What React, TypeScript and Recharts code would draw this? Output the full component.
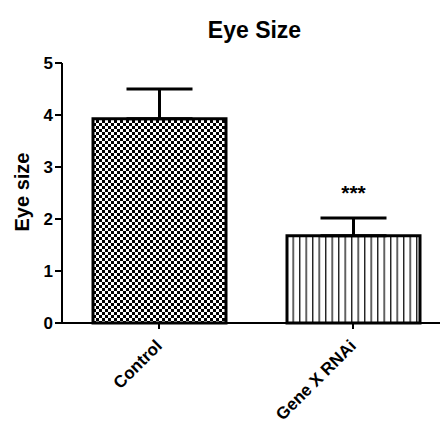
import { Bar, BarChart, ErrorBar, LabelList, XAxis, YAxis } from "recharts";

const categories = ["Control", "Gene X RNAi"];
const means = [3.93, 1.68];
const sems = [0.57, 0.34];
const marks = ["", "***"];
const fills = ["url(#checker)", "url(#vlines)"];
const yTicks = [0, 1, 2, 3, 4, 5];

const data = categories.map((name, i) => ({
  name,
  mean: means[i],
  err: [0, sems[i]],
  sig: marks[i],
  fill: fills[i],
}));

const FONT = "'Liberation Sans', Arial, sans-serif";

function XTick(props: any) {
  const { x, y, payload } = props;
  const tx = x + 4;
  const ty = y + 16;
  return (
    <text
      x={tx}
      y={ty}
      transform={`rotate(-45 ${tx} ${ty})`}
      textAnchor="end"
      fontFamily={FONT}
      fontWeight="bold"
      fontSize={17}
      fill="#000"
    >
      {payload.value}
    </text>
  );
}

function YTick(props: any) {
  const { x, y, payload } = props;
  return (
    <text
      x={x}
      y={y}
      dy={6}
      textAnchor="end"
      fontFamily={FONT}
      fontWeight="bold"
      fontSize={17}
      fill="#000"
    >
      {payload.value}
    </text>
  );
}

export default function App() {
  return (
    <div
      style={{
        position: "absolute",
        left: 0,
        top: 0,
        width: 440,
        height: 429,
        overflow: "hidden",
        background: "#fff",
      }}
    >
      <svg width={0} height={0} style={{ position: "absolute" }}>
        <defs>
          <pattern id="checker" width={6} height={6} patternUnits="userSpaceOnUse">
            <rect width={6} height={6} fill="#fff" />
            <rect x={0} y={0} width={3} height={3} fill="#000" />
            <rect x={3} y={3} width={3} height={3} fill="#000" />
          </pattern>
          <pattern id="vlines" width={6.5} height={10} patternUnits="userSpaceOnUse">
            <rect width={6.5} height={10} fill="#fff" />
            <rect x={0} y={0} width={1.4} height={10} fill="#222" />
          </pattern>
        </defs>
      </svg>
      <div
        style={{
          position: "absolute",
          left: 0,
          top: 17,
          width: 509,
          textAlign: "center",
          fontFamily: FONT,
          fontWeight: "bold",
          fontSize: 23,
          lineHeight: "26px",
          color: "#000",
        }}
      >
        Eye Size
      </div>
      <BarChart
        width={452}
        height={429}
        data={data}
        margin={{ top: 63, right: 2, left: 0, bottom: 0 }}
      >
        <XAxis
          dataKey="name"
          height={106}
          stroke="#000"
          strokeWidth={2}
          tickSize={6}
          tickLine={{ stroke: "#000", strokeWidth: 2 }}
          tick={<XTick />}
          interval={0}
        />
        <YAxis
          width={62}
          domain={[0, 5]}
          ticks={yTicks}
          stroke="#000"
          strokeWidth={2}
          tickSize={7}
          tickMargin={2}
          tickLine={{ stroke: "#000", strokeWidth: 2 }}
          tick={<YTick />}
          label={{
            content: () => (
              <text
                x={29}
                y={192}
                transform="rotate(-90 29 192)"
                textAnchor="middle"
                fontFamily={FONT}
                fontWeight="bold"
                fontSize={20}
                fill="#000"
              >
                Eye size
              </text>
            ),
          }}
        />
        <Bar
          dataKey="mean"
          barSize={133}
          stroke="#000"
          strokeWidth={3}
          isAnimationActive={false}
        >
          <ErrorBar
            dataKey="err"
            direction="y"
            width={33}
            stroke="#000"
            strokeWidth={3}
            isAnimationActive={false}
          />
          <LabelList
            dataKey="sig"
            content={(p: any) =>
              p.value ? (
                <text
                  x={p.x + p.width / 2}
                  y={p.y - 36}
                  textAnchor="middle"
                  fontFamily={FONT}
                  fontWeight="bold"
                  fontSize={21}
                  fill="#000"
                >
                  {p.value}
                </text>
              ) : null
            }
          />
        </Bar>
      </BarChart>
    </div>
  );
}
